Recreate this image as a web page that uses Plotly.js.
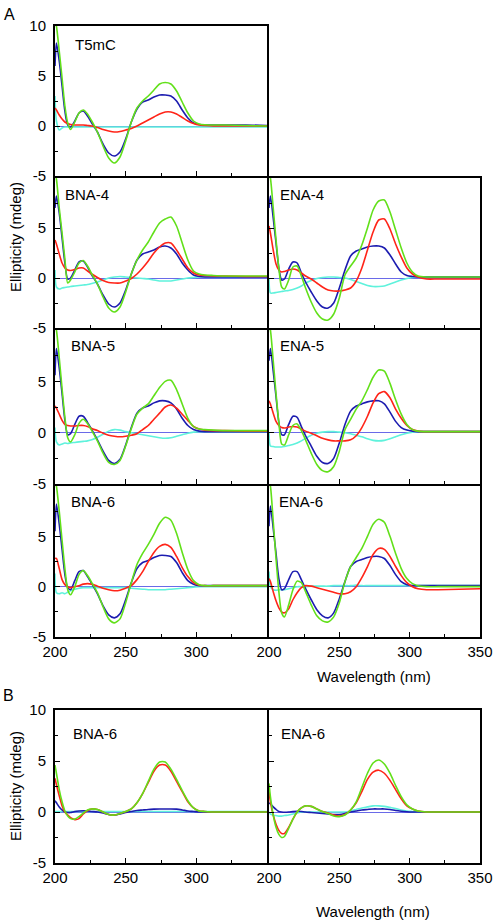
<!DOCTYPE html>
<html><head><meta charset="utf-8">
<script src="https://cdn.plot.ly/plotly-3.0.1.min.js"></script>
<style>body{margin:0;padding:0;background:#fff}#chart{width:496px;height:920px}</style>
</head><body><div id="chart"></div>
<script>
// Wavelength grid (nm)
const wavelength = [200,201,203,205,207,209,211,214,217,220,223,226,230,234,238,242,246,250,254,258,262,266,270,274,278,282,286,290,294,298,302,306,312,320,335,350];

// Panel A – T5mC
const T5mC_green = [10.5,10,7.5,4.8,2.0,0.3,-0.35,0.4,1.3,1.6,1.2,0.5,-0.6,-2.0,-3.2,-3.7,-3.1,-1.5,0.4,1.8,2.5,3.0,3.6,4.2,4.35,4.2,3.5,2.4,1.3,0.5,0.2,0.12,0.1,0.1,0.05,0];
const T5mC_blue  = [6,8.3,6.5,4,1.5,0.1,-0.1,0.5,1.3,1.5,1.0,0.3,-0.6,-1.8,-2.7,-3.0,-2.6,-1.3,0.4,1.7,2.4,2.6,2.9,3.1,3.1,3.0,2.5,1.6,0.8,0.3,0.15,0.1,0.1,0.1,0.1,0.05];
const T5mC_red   = [1.8,1.6,1.1,0.7,0.4,0.25,0.15,0.1,0.1,0.1,0.05,0,-0.15,-0.35,-0.5,-0.6,-0.55,-0.4,-0.25,0,0.3,0.6,0.9,1.2,1.4,1.4,1.2,0.85,0.5,0.25,0.1,0.05,0,0,0,0];
const T5mC_cyan  = [3,0.5,-0.4,-0.2,-0.1,-0.1,-0.1,-0.1,-0.1,-0.1,-0.1,-0.1,-0.1,-0.1,-0.1,-0.1,-0.1,-0.1,-0.1,-0.1,-0.1,-0.1,-0.1,-0.1,-0.1,-0.1,-0.1,-0.1,-0.1,-0.1,-0.1,-0.1,-0.1,-0.1,-0.1,-0.1];

// BNA-4
const BNA4_green = [10.5,9.9,7.0,4.5,1.9,-0.5,-0.2,0.6,1.5,1.75,1.2,0.4,-0.6,-1.9,-3.0,-3.4,-2.9,-1.4,0.4,1.8,2.8,3.6,4.6,5.5,5.9,6.1,5.2,3.5,1.8,0.7,0.4,0.3,0.25,0.2,0.2,0.2];
const BNA4_blue  = [7,8.2,6.5,4,1.5,-0.1,0,0.8,1.6,1.7,1.1,0.3,-0.6,-1.7,-2.6,-2.9,-2.5,-1.2,0.4,1.8,2.4,2.6,2.8,3.1,3.2,3.0,2.4,1.5,0.8,0.3,0.15,0.1,0.1,0.1,0.1,0.1];
const BNA4_red   = [3.8,3.4,2.4,1.5,1.0,0.8,0.75,0.85,1.0,1.0,0.7,0.4,0.05,-0.25,-0.45,-0.5,-0.5,-0.3,-0.05,0.4,1.0,1.7,2.5,3.1,3.5,3.5,2.8,1.9,1.0,0.5,0.3,0.25,0.2,0.2,0.15,0.15];
const BNA4_cyan  = [0.8,-0.9,-1.1,-1.0,-0.95,-0.9,-0.85,-0.8,-0.75,-0.7,-0.65,-0.55,-0.4,-0.2,0,0.1,0.15,0.1,0.05,0,-0.05,-0.1,-0.2,-0.3,-0.3,-0.3,-0.2,-0.1,0,0.05,0.1,0.1,0.1,0.1,0.1,0.1];

// ENA-4
const ENA4_green = [10.5,10,7,3.8,1,-0.9,-1.1,-0.2,1.1,1.2,0.2,-1.0,-2.4,-3.5,-4.1,-4.2,-3.6,-2.0,0.3,1.2,2.0,3.3,5.0,6.8,7.7,7.8,6.6,4.8,3.0,1.5,0.6,0.2,0.1,0.1,0.1,0.1];
const ENA4_blue  = [7,8.2,6.0,3.5,1.0,-0.2,-0.1,0.9,1.6,1.5,0.5,-0.4,-1.4,-2.3,-2.9,-3.0,-2.5,-1.0,0.8,2.2,2.7,2.9,3.1,3.2,3.2,3.0,2.3,1.4,0.6,0.25,0.15,0.1,0.1,0.1,0.1,0.1];
const ENA4_red   = [5.2,4.5,2.8,1.4,0.8,0.6,0.65,0.8,0.9,0.8,0.5,0.2,-0.1,-0.5,-0.9,-1.2,-1.3,-1.3,-1.2,-1.0,-0.3,1.0,2.8,4.6,5.8,5.9,4.9,3.4,2.1,1.0,0.4,0.1,-0.1,-0.1,-0.1,-0.1];
const ENA4_cyan  = [0,-1.5,-1.5,-1.45,-1.4,-1.35,-1.3,-1.25,-1.15,-1.0,-0.8,-0.5,-0.25,-0.05,0.05,0.1,0.1,0.05,0,-0.15,-0.35,-0.55,-0.75,-0.85,-0.85,-0.8,-0.6,-0.4,-0.2,-0.05,0.05,0.1,0.1,0.1,0.1,0.1];

// BNA-5
const BNA5_green = [10.5,10,7.3,4.3,1.5,-0.5,-0.9,-0.2,0.9,1.3,0.9,0.2,-0.8,-2.0,-2.9,-3.1,-2.7,-1.3,0.4,1.8,2.4,2.8,3.6,4.4,5.0,5.1,4.2,2.8,1.4,0.6,0.35,0.3,0.25,0.2,0.2,0.2];
const BNA5_blue  = [5.6,8.2,6.3,3.8,1.2,-0.2,-0.1,0.8,1.6,1.6,1.0,0.3,-0.7,-1.8,-2.7,-3.0,-2.6,-1.2,0.5,1.9,2.4,2.6,2.9,3.1,3.1,2.9,2.3,1.4,0.7,0.3,0.15,0.1,0.1,0.1,0.1,0.1];
const BNA5_red   = [2.6,2.4,1.8,1.2,0.8,0.7,0.65,0.65,0.7,0.7,0.6,0.4,0.2,-0.05,-0.25,-0.35,-0.4,-0.35,-0.25,-0.1,0.3,0.7,1.3,1.9,2.5,2.7,2.4,1.8,1.2,0.6,0.35,0.25,0.2,0.2,0.15,0.15];
const BNA5_cyan  = [0.5,-0.9,-1.2,-1.1,-1.0,-1.05,-1.0,-0.95,-0.9,-0.85,-0.8,-0.7,-0.45,-0.15,0.15,0.3,0.25,0.1,0,-0.1,-0.2,-0.3,-0.4,-0.5,-0.55,-0.5,-0.35,-0.2,-0.05,0.05,0.1,0.1,0.1,0.1,0.1,0.1];

// ENA-5
const ENA5_green = [10.5,10,7,3.8,1,-1.1,-1.2,-0.2,0.7,0.85,0.2,-0.7,-2.0,-3.1,-3.7,-3.8,-3.3,-1.8,0.3,1.3,2.3,3.1,4.2,5.4,6.1,6.0,4.8,3.2,1.8,0.8,0.3,0.15,0.1,0.1,0.1,0.1];
const ENA5_blue  = [7,8.2,6,3.5,1.0,-0.2,-0.2,0.8,1.6,1.5,0.6,-0.3,-1.3,-2.3,-2.9,-3.0,-2.5,-1.0,0.8,2.1,2.6,2.8,3.0,3.1,3.1,2.8,2.0,1.1,0.5,0.25,0.15,0.1,0.1,0.1,0.1,0.1];
const ENA5_red   = [3.1,2.8,1.9,1.1,0.7,0.5,0.45,0.55,0.6,0.55,0.35,0.15,-0.05,-0.3,-0.55,-0.7,-0.8,-0.8,-0.8,-0.7,-0.3,0.5,1.6,2.9,3.8,4.0,3.4,2.3,1.4,0.7,0.3,0.15,0.1,0.1,0.1,0.1];
const ENA5_cyan  = [0,-1.3,-1.35,-1.4,-1.4,-1.4,-1.35,-1.25,-1.15,-1.0,-0.8,-0.55,-0.25,-0.05,0.05,0.1,0.1,0.05,0,-0.1,-0.25,-0.4,-0.6,-0.75,-0.8,-0.75,-0.6,-0.4,-0.2,-0.05,0.05,0.1,0.1,0.1,0.1,0.1];

// BNA-6
const BNA6_green = [10.5,10,7.5,4.6,1.8,-0.3,-0.8,0,1.2,1.6,1.1,0.4,-0.6,-2.0,-3.2,-3.6,-3.2,-1.6,0.4,2.2,3.3,4.2,5.2,6.3,6.9,6.6,5.3,3.4,1.7,0.6,0.2,0.1,0.1,0.1,0.1,0.1];
const BNA6_blue  = [5.5,8.2,6.2,3.7,1.2,-0.1,-0.3,0.6,1.5,1.6,1.0,0.3,-0.7,-1.9,-2.8,-3.1,-2.7,-1.3,0.4,1.8,2.4,2.6,2.9,3.1,3.1,3.0,2.4,1.4,0.6,0.25,0.1,0.1,0.1,0.1,0.1,0.1];
const BNA6_red   = [2.8,2.8,1.8,0.7,0.2,0,-0.1,0,0.1,0.25,0.3,0.25,0.05,-0.15,-0.3,-0.4,-0.35,-0.15,0.1,0.7,1.5,2.5,3.4,4.0,4.2,3.9,3.0,1.9,1.0,0.4,0.15,0.1,0.1,0.1,0.1,0.1];
const BNA6_cyan  = [1.3,-0.6,-0.7,-0.6,-0.7,-0.55,-0.4,-0.25,-0.15,-0.1,-0.1,-0.1,-0.1,-0.1,-0.1,-0.1,-0.1,-0.1,-0.15,-0.2,-0.25,-0.3,-0.3,-0.3,-0.3,-0.25,-0.2,-0.15,-0.1,-0.05,0,0,0,0,0,0];

// ENA-6
const ENA6_green = [10.5,10,6.5,2.8,-0.5,-2.6,-3.0,-1.8,-0.3,0.55,0.4,-0.5,-1.8,-2.9,-3.4,-3.5,-3.0,-1.6,0.5,2.0,2.9,3.8,5.0,6.2,6.7,6.4,5.0,3.3,1.8,0.8,0.3,0.1,0,0,0,0];
const ENA6_blue  = [6,8,5.8,3.3,0.8,-0.3,-0.2,0.7,1.5,1.5,0.7,-0.2,-1.3,-2.3,-2.9,-3.1,-2.6,-1.2,0.5,2.0,2.5,2.7,2.9,3.0,3.0,2.8,2.1,1.2,0.5,0.2,0.1,0.1,0.1,0.1,0.1,0.1];
const ENA6_red   = [0.8,0.5,-0.5,-1.4,-2.1,-2.5,-2.6,-2.2,-1.3,-0.6,-0.1,0.1,0.05,-0.1,-0.25,-0.4,-0.55,-0.7,-0.7,-0.5,0,0.9,2.0,3.2,3.8,3.7,3.0,2.0,1.1,0.4,0,-0.2,-0.3,-0.3,-0.25,-0.2];
const ENA6_cyan  = [1.5,0,-0.3,-0.35,-0.3,-0.3,-0.3,-0.2,-0.1,0,0,0,0.05,0.05,0.05,0.05,0.1,0.1,0.1,0.1,0.15,0.1,0.1,0.1,0.1,0.1,0.1,0.1,0.1,0.1,0.1,0.1,0.1,0.1,0.1,0.1];

// Panel B – BNA-6
const B_BNA6_green = [4.6,3.8,2.2,1.0,0.1,-0.4,-0.65,-0.7,-0.45,-0.1,0.2,0.3,0.25,0,-0.25,-0.3,-0.15,0.05,0.3,0.9,1.8,3.0,4.2,4.9,4.9,4.2,3.2,2.1,1.1,0.4,0.1,0.05,0,0,0,0];
const B_BNA6_red   = [3.3,2.7,1.6,0.6,0,-0.3,-0.55,-0.75,-0.65,-0.2,0.15,0.3,0.25,0,-0.25,-0.3,-0.15,0.05,0.3,0.9,1.8,2.9,4.0,4.6,4.6,4.0,3.0,2.0,1.0,0.4,0.1,0.05,0,0,0,0];
const B_BNA6_blue  = [1.1,0.9,0.5,0.2,0,-0.05,-0.05,0.05,0.1,0.12,0.1,0.05,0,-0.1,-0.25,-0.3,-0.2,-0.05,0.05,0.15,0.2,0.25,0.28,0.3,0.3,0.3,0.28,0.2,0.1,0.05,0,0,0,0,0,0];
const B_BNA6_cyan  = [0.05,0.05,0.05,0.05,0.05,0.05,0.05,0.05,0.05,0.05,0.05,0.05,0.05,0.05,0.05,0.05,0.05,0.05,0.05,0.05,0.05,0.05,0.05,0.05,0.05,0.05,0.05,0.05,0.05,0.05,0.05,0.05,0.05,0.05,0.05,0.05];

// Panel B – ENA-6
const B_ENA6_green = [2.8,1.5,-0.3,-1.5,-2.2,-2.5,-2.4,-1.6,-0.7,0,0.4,0.6,0.55,0.3,0.05,-0.15,-0.4,-0.45,-0.3,0.2,1.0,2.4,3.8,4.8,5.1,4.7,3.8,2.6,1.5,0.7,0.3,0.1,0,0,0,0];
const B_ENA6_red   = [2.0,1.0,-0.3,-1.2,-1.8,-2.1,-2.1,-1.5,-0.7,0,0.4,0.6,0.55,0.3,0.05,-0.1,-0.3,-0.4,-0.25,0.2,0.9,2.0,3.2,3.9,4.1,3.8,3.1,2.2,1.3,0.6,0.3,0.1,0,0,0,0];
const B_ENA6_blue  = [0.9,0.8,0.5,0.25,0.05,0,-0.02,0,0.05,0.08,0.05,0,-0.05,-0.1,-0.15,-0.2,-0.25,-0.25,-0.15,0,0.1,0.2,0.25,0.3,0.3,0.3,0.25,0.15,0.08,0.03,0,0,0,0,0,0];
const B_ENA6_cyan  = [0,-0.2,-0.3,-0.35,-0.4,-0.4,-0.35,-0.3,-0.2,-0.1,0,0,0,0,0,0,0,0,0,0.1,0.25,0.4,0.5,0.6,0.6,0.55,0.45,0.35,0.2,0.1,0.05,0,0,0,0,0];

const panelLabels = ['T5mC','BNA-4','ENA-4','BNA-5','ENA-5','BNA-6','ENA-6','BNA-6','ENA-6'];
const xTicks = [200,250,300,350];
const xTickText = ['200','250','300','350'];
const yTicks = [-5,0,5,10];
const yTickText = ['-5','0','5','10'];

// ---- layout geometry (pixels) ----
const W = 496, H = 920;
const cols = [[55,267],[269,480]];
const rows = [[26,176],[178,328],[330,484],[486,637],[710,863]];
const FONT = 'Liberation Sans, Arial, sans-serif';
const colors = {cyan:'#5ff2dc', blue:'#1c1cb0', red:'#ff2418', green:'#62e01a'};

const panels = [
  {col:0,row:0,lx:73,ly:45,s:[T5mC_cyan,T5mC_blue,T5mC_red,T5mC_green]},
  {col:0,row:1,lx:63,ly:195,s:[BNA4_cyan,BNA4_blue,BNA4_red,BNA4_green]},
  {col:1,row:1,lx:278,ly:195,s:[ENA4_cyan,ENA4_blue,ENA4_red,ENA4_green]},
  {col:0,row:2,lx:69,ly:345,s:[BNA5_cyan,BNA5_blue,BNA5_red,BNA5_green]},
  {col:1,row:2,lx:278,ly:345,s:[ENA5_cyan,ENA5_blue,ENA5_red,ENA5_green]},
  {col:0,row:3,lx:69,ly:502,s:[BNA6_cyan,BNA6_blue,BNA6_red,BNA6_green]},
  {col:1,row:3,lx:277,ly:502,s:[ENA6_cyan,ENA6_blue,ENA6_red,ENA6_green]},
  {col:0,row:4,lx:71,ly:733,s:[B_BNA6_cyan,B_BNA6_blue,B_BNA6_red,B_BNA6_green]},
  {col:1,row:4,lx:279,ly:733,s:[B_ENA6_cyan,B_ENA6_blue,B_ENA6_red,B_ENA6_green]}
];
const cNames = ['cyan','blue','red','green'];

const traces = [];
const layout = {
  width: W, height: H, margin:{l:0,r:0,t:0,b:0},
  paper_bgcolor:'#fff', plot_bgcolor:'#fff', showlegend:false,
  font:{family:FONT, size:15, color:'#000'},
  annotations:[]
};

panels.forEach((p,i)=>{
  const k = i+1, sfx = k===1 ? '' : String(k);
  p.s.forEach((ys,j)=>{
    traces.push({x:wavelength, y:ys, xaxis:'x'+sfx, yaxis:'y'+sfx, type:'scatter', mode:'lines',
      line:{color:colors[cNames[j]], width:1.6, shape:'spline', smoothing:0.7}, hoverinfo:'skip'});
  });
  const [x0,x1] = cols[p.col];
  const [t,b] = rows[p.row];
  const bottom = (p.row===3 || p.row===4);
  const nx = p.col===0 ? 3 : 4;
  layout['xaxis'+sfx] = {
    domain:[x0/W, x1/W], anchor:'y'+sfx, range:[200,350],
    showline:true, mirror:true, linecolor:'#000', linewidth:2,
    ticks:'inside', ticklen:5, tickwidth:1, tickcolor:'#000',
    tickmode:'array', tickvals: xTicks.slice(0,nx), ticktext: xTickText.slice(0,nx),
    showticklabels: bottom, tickfont:{family:FONT,size:15,color:'#000'},
    minor:{tickmode:'linear', tick0:225, dtick:50, ticks:'inside', ticklen:3, tickcolor:'#000'},
    showgrid:false, zeroline:false, fixedrange:true
  };
  const ny = (p.row===0 || p.row===4) ? 4 : 3;
  layout['yaxis'+sfx] = {
    domain:[1-b/H, 1-t/H], anchor:'x'+sfx, range:[-5,10],
    showline:true, mirror:true, linecolor:'#000', linewidth:2,
    ticks:'inside', ticklen:5, tickwidth:1, tickcolor:'#000',
    tickmode:'array', tickvals:yTicks.slice(0,ny), ticktext:yTickText.slice(0,ny),
    showticklabels: p.col===0, tickfont:{family:FONT,size:15,color:'#000'}, ticklabelstandoff:4,
    minor:{tickmode:'linear', tick0:-2.5, dtick:5, ticks:'inside', ticklen:3, tickcolor:'#000'},
    showgrid:false, zeroline:true, zerolinecolor:'#6a6ae8', zerolinewidth:1, fixedrange:true
  };
  layout.annotations.push({text:panelLabels[i], xref:'paper', yref:'paper',
    x:p.lx/W, y:1-p.ly/H, xanchor:'left', yanchor:'middle',
    showarrow:false, font:{family:FONT,size:15,color:'#000'}});
});

// Axis titles and panel letters
layout.annotations.push(
  {text:'Wavelength (nm)', xref:'paper', yref:'paper', x:374/W, y:1-676/H, xanchor:'center', yanchor:'middle', showarrow:false, font:{family:FONT,size:15}},
  {text:'Wavelength (nm)', xref:'paper', yref:'paper', x:373/W, y:1-911/H, xanchor:'center', yanchor:'middle', showarrow:false, font:{family:FONT,size:15}},
  {text:'Ellipticity (mdeg)', xref:'paper', yref:'paper', x:15/W, y:1-237/H, xanchor:'center', yanchor:'middle', textangle:-90, showarrow:false, font:{family:FONT,size:15}},
  {text:'Ellipticity (mdeg)', xref:'paper', yref:'paper', x:15/W, y:1-786/H, xanchor:'center', yanchor:'middle', textangle:-90, showarrow:false, font:{family:FONT,size:15}},
  {text:'A', xref:'paper', yref:'paper', x:9/W, y:1-14/H, xanchor:'center', yanchor:'middle', showarrow:false, font:{family:FONT,size:16}},
  {text:'B', xref:'paper', yref:'paper', x:8/W, y:1-695/H, xanchor:'center', yanchor:'middle', showarrow:false, font:{family:FONT,size:16}}
);

Plotly.newPlot('chart', traces, layout, {staticPlot:true, displayModeBar:false});
</script>
</body></html>
